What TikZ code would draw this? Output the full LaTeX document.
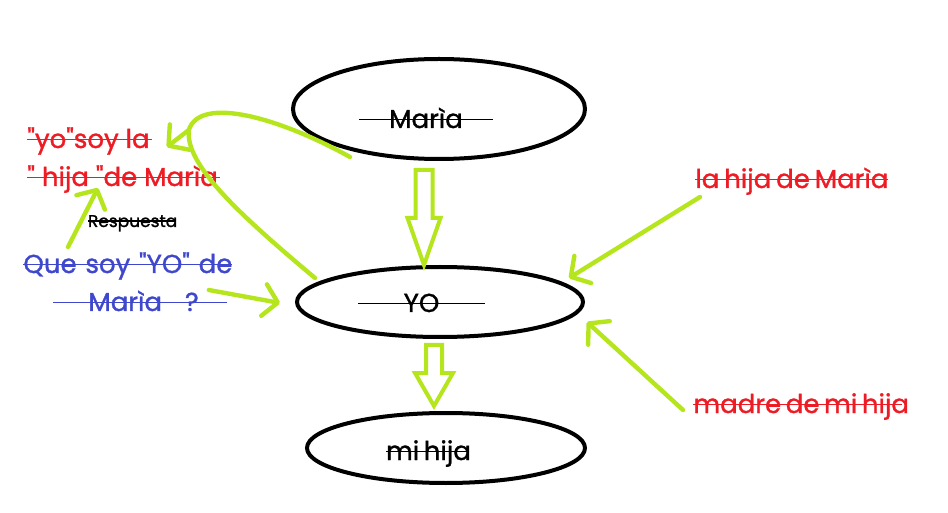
\documentclass[tikz,border=0pt]{standalone}
\usepackage{fontspec}
\setmainfont{Poppins}[Ligatures=TeXOff, FakeBold=1.2]
\usetikzlibrary{shapes.geometric,arrows.meta,calc}
\definecolor{rojo}{RGB}{237,28,36}
\definecolor{azul}{RGB}{63,72,204}
\definecolor{verde}{RGB}{181,230,29}
\newcommand{\tachado}[2]{\makebox[#1][s]{\rlap{\rule[0.3em]{#1}{0.8pt}}#2}}
% flecha gruesa: punta, medio ancho del cuerpo, medio ancho de la punta, largo de la punta, largo total
\newcommand{\flechagruesa}[5]{\draw[bloque] (#1) -- ++(-#3,-#4) -- ++(#3-#2,0) -- ++(0,#4-#5) -- ++(2*#2,0) -- ++(0,#5-#4) -- ++(#3-#2,0) -- cycle;}

\begin{document}
\begin{tikzpicture}[x=0.5pt,y=-0.5pt,
	ovalo/.style={draw, ellipse, line width=2pt, inner sep=0pt},
	texto/.style={inner sep=0pt, anchor=base, font=\fontsize{13}{15}\selectfont},
	bloque/.style={draw=verde, fill=white, line width=2pt, line join=miter},
	flecha/.style={draw=verde, line width=2.2pt, line cap=round, -{Straight Barb[round,length=7pt,width=16pt]}}]
	\useasboundingbox (0,0) rectangle (948,513);
	% los tres ovalos
	\node[ovalo, minimum width=146pt, minimum height=50pt] (M) at (439,109) {};
	\node[ovalo, minimum width=143pt, minimum height=35pt] (Y) at (440,302) {};
	\node[ovalo, minimum width=139pt, minimum height=35pt] (H) at (446,448) {};
	\node[texto] (tM) at (426,128) {\tachado{67pt}{\hfill Marìa\hfill}};
	\node[texto] (tY) at (421.5,312) {\tachado{63.5pt}{\hfill YO\hfill}};
	\node[texto] (tH) at (427,460) {\tachado{41pt}{\hfill mi hija\hfill}};
	% flechas gruesas
	\coordinate (p1) at ([xshift=-8]Y.north);
	\coordinate (p2) at ([shift={(-12,-5)}]H.north);
	\flechagruesa{p1}{8.5}{16.5}{47}{95}
	\flechagruesa{p2}{8}{19}{33}{61}
	% textos
	\node[texto, rojo, anchor=base west] (r1) at (27,148) {\tachado{62.5pt}{"yo"soy la\hfill}};
	\node[texto, rojo, anchor=base west] (r2) at (27,186) {\tachado{96.5pt}{" hija "de Marìa\hfill}};
	\node[texto, font=\fontsize{8.5}{10}\selectfont] (resp) at (131.5,227) {\tachado{43.5pt}{\hfill Respuesta\hfill}};
	\node[texto, azul, anchor=base west] (a1) at (23,273) {\tachado{104.5pt}{Que soy "YO" de}};
	\node[texto, azul, anchor=base west] (a2) at (53,311) {\tachado{87pt}{\hspace{17.5pt}Marìa\hspace{11.5pt}?\hfill}};
	\node[texto, rojo, anchor=base west] (d1) at (695,188) {\tachado{96.5pt}{la hija de Marìa}};
	\node[texto, rojo, anchor=base west] (d2) at (693,413) {\tachado{104.5pt}{madre de mi hija}};
	% flechas verdes
	\coordinate (S) at ([shift={(-89,48)}]M.center);
	\coordinate (E) at ([shift={(20,-24)}]Y.west);
	\coordinate (J) at ([shift={(36,-18)}]r1.base east);
	\draw[verde, line width=2.2pt, line cap=round] (S) .. controls (280,118) and (200,95) .. (J) .. controls (185,165) and (240,215) .. (E);
	\draw[flecha] (J) -- ([shift={(14,-1)}]r1.base east);
	\draw[flecha] ([shift={(45,-26)}]a1.base west) -- ([shift={(71,2)}]r2.base west);
	\draw[flecha] ([shift={(-19,-21)}]a2.base east) -- ([shift={(-15,1)}]Y.west);
	\draw[flecha] ([shift={(5,9)}]d1.base west) -- ([shift={(-16,-24)}]Y.east);
	\draw[flecha] ([shift={(-10,-3)}]d2.base west) -- ([shift={(2,20)}]Y.east);
\end{tikzpicture}
\end{document}
